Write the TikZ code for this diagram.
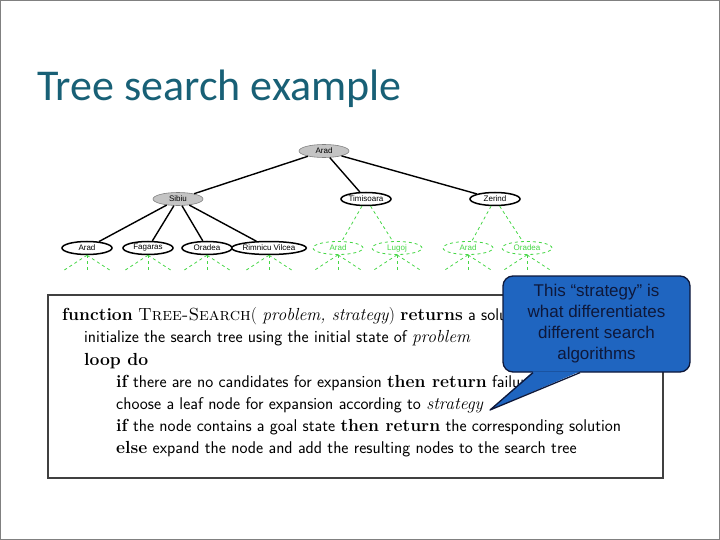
\documentclass[tikz,border=0pt]{standalone}
\usepackage{fontspec}
\newfontfamily\titlefont{Carlito}
\newfontfamily\labelfont{Liberation Sans}
\usetikzlibrary{positioning, shapes.geometric}
\definecolor{titleteal}{RGB}{24,96,118}
\definecolor{fringegreen}{RGB}{70,215,70}
\definecolor{visitgray}{RGB}{196,196,196}
\definecolor{noteblue}{RGB}{31,101,192}
\definecolor{noteink}{RGB}{14,24,58}
\newcommand{\kw}[1]{{\rmfamily\fontsize{17.5}{20}\selectfont #1}}
\newcommand{\kwb}[1]{{\rmfamily\bfseries\fontsize{17.5}{20}\selectfont #1}}
\tikzset{city/.style={ellipse, draw=black, line width=1.5pt, fill=white, minimum width=50pt, minimum height=13pt, inner sep=0pt, font=\labelfont\fontsize{8}{9}\selectfont},
    visited/.style={city, fill=visitgray, draw=gray, line width=.6pt},
    fringe/.style={city, draw=fringegreen, text=fringegreen, dashed, line width=.8pt},
    treeedge/.style={line width=1.4pt},
    fringeedge/.style={draw=fringegreen, dashed, line width=.8pt},
    algoline/.style={anchor=base west, inner sep=0pt, font=\sffamily\fontsize{17}{19}\selectfont},
    note/.style={rectangle, rounded corners=10pt, fill=noteblue, draw=noteink, line width=1.3pt, text=noteink, align=center, minimum width=187pt, minimum height=96pt, inner sep=0pt, font=\labelfont\fontsize{17}{21}\selectfont}}

\begin{document}
\begin{tikzpicture}[x=1pt, y=-1pt]
    \useasboundingbox (0,0) rectangle (720,540);
    \draw[gray, line width=1pt] (.5,.5) rectangle (719.5,539.5);
    \node[anchor=base west, inner sep=0pt, text=titleteal, font=\titlefont\fontsize{44}{50}\selectfont] (title) at (37,101) {Tree search example};

    % search tree
    \node[visited] (arad) at (324,151) {Arad};
    \node[visited] (sibiu) at (178,199) {Sibiu};
    \node[city] (timisoara) at (366,199) {Timisoara};
    \node[city] (zerind) at (495,199) {Zerind};
    \node[city] (arad1) at (87,248) {Arad};
    \node[city] (fagaras) at (148,248) {Fagaras};
    \node[city] (oradea1) at (207,248) {Oradea};
    \node[city] (rimnicu) at (269,248) {Rimnicu Vilcea};
    \node[fringe] (arad2) at (338,248) {Arad};
    \node[fringe] (lugoj) at (397,248) {Lugoj};
    \node[fringe] (arad3) at (468,248) {Arad};
    \node[fringe] (oradea2) at (527,248) {Oradea};
    \draw[treeedge] (arad)--(sibiu);
    \draw[treeedge] (arad)--(timisoara);
    \draw[treeedge] (arad)--(zerind);
    \draw[treeedge] (sibiu)--(arad1);
    \draw[treeedge] (sibiu)--(fagaras);
    \draw[treeedge] (sibiu)--(oradea1);
    \draw[treeedge] (sibiu)--(rimnicu);
    \draw[fringeedge] (timisoara)--(arad2);
    \draw[fringeedge] (timisoara)--(lugoj);
    \draw[fringeedge] (zerind)--(arad3);
    \draw[fringeedge] (zerind)--(oradea2);
    \foreach \n in {arad1, fagaras, oradea1, rimnicu, arad2, lugoj, arad3, oradea2}
    {
        \draw[fringeedge] (\n.south)--++(-23,15);
        \draw[fringeedge] (\n.south)--++(0,15);
        \draw[fringeedge] (\n.south)--++(23,15);
    }

    % algorithm
    \node[draw=black!75, line width=1.3pt, minimum width=615pt, minimum height=183pt, inner sep=0pt] (algo) at (355.5,386.5) {};
    \node[algoline] (line1) at (62,320) {\kwb{function} \kw{\textsc{Tree-Search}( \textit{problem, strategy})} \kwb{returns} a solution, or failure};
    \node[algoline] (line2) at (84,342) {initialize the search tree using the initial state of \kw{\textit{problem}}};
    \node[algoline] (line3) at (84,365) {\kwb{loop do}};
    \node[algoline] (line4) at (116,387) {\kwb{if} there are no candidates for expansion \kwb{then return} failure};
    \node[algoline] (line5) at (116,409) {choose a leaf node for expansion according to \kw{\textit{strategy}}};
    \node[algoline] (line6) at (116,431) {\kwb{if} the node contains a goal state \kwb{then return} the corresponding solution};
    \node[algoline] (line7) at (116,453) {\kwb{else} expand the node and add the resulting nodes to the search tree};

    % callout
    \coordinate (tip) at (490,410);
    \node[note] (remark) at (596.5,324) {This “strategy” is\\what differentiates\\different search\\algorithms};
    \fill[noteblue] ([xshift=-63.5pt, yshift=1.2pt]remark.south) -- (tip) -- ([xshift=-16.5pt, yshift=1.2pt]remark.south) -- cycle;
    \draw[noteink, line width=1.3pt, line join=round] ([xshift=-63.5pt]remark.south) -- (tip) -- ([xshift=-16.5pt]remark.south);
\end{tikzpicture}
\end{document}
